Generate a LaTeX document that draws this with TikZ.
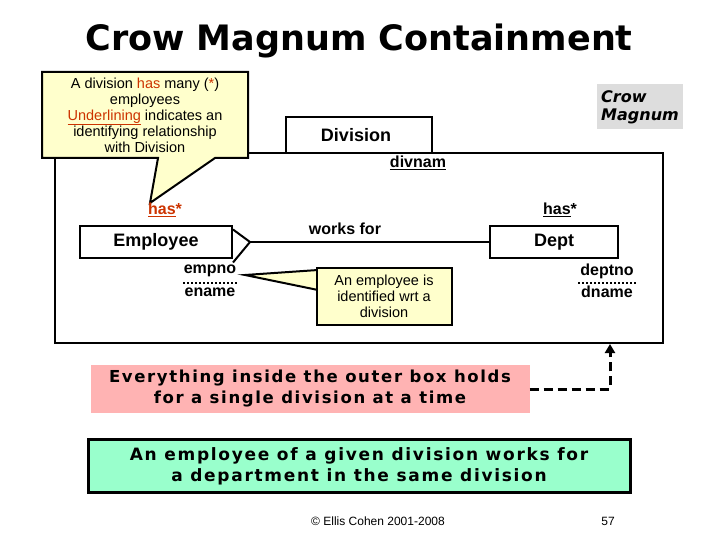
\documentclass[tikz,border=0pt]{standalone}
\usepackage{fontspec}
\setmainfont{Liberation Sans}
\newfontfamily\verd{DejaVu Sans}
\newfontfamily\verdsp[LetterSpace=10]{DejaVu Sans}
\usetikzlibrary{arrows.meta}
\definecolor{note}{HTML}{FFFFCC}
\definecolor{hasred}{HTML}{CC3300}
\definecolor{pinkbox}{HTML}{FFB3B3}
\definecolor{greenbox}{HTML}{99FFCC}
\definecolor{graybox}{HTML}{DDDDDD}
\begin{document}
\begin{tikzpicture}[x=1pt,y=-1pt,
  ent/.style={draw,line width=2pt,inner sep=0pt},
  lbl/.style={font=\fontsize{16}{17}\selectfont\bfseries}]
\useasboundingbox (0,0) rectangle (720,540);
\node[font=\verd\fontsize{35}{37}\selectfont\bfseries] (title) at (359,41) {Crow Magnum Containment};
% outer box and Division
\draw[line width=2pt] (55,153) rectangle (663,343);
\draw[ent,fill=white] (286,117) rectangle (432,153);
\node[font=\fontsize{18}{19}\selectfont\bfseries] (div) at (356,135) {Division};
\node[lbl] (divnam) at (418,163) {\underline{divnam}};
% callout
\draw[line width=2pt,fill=note] (42,72) -- (248,72) -- (248,158) -- (215,158) -- (150,203) -- (158,158) -- (42,158) -- cycle;
\node[font=\fontsize{14.5}{16}\selectfont, align=center] (call) at (145,115)
 {A division \textcolor{hasred}{has} many (\textcolor{hasred}{*})\\employees\\\textcolor{hasred}{\underline{Underlining}} indicates an\\identifying relationship\\with Division};
% crow magnum
\node[fill=graybox, font=\verd\fontsize{16}{18}\selectfont\bfseries\itshape, align=left, minimum width=86pt, minimum height=45pt, inner sep=2pt] (cm) at (640,107) {Crow\\Magnum};
% entities
\node[ent, minimum width=152pt, minimum height=31pt, font=\fontsize{18}{19}\selectfont\bfseries] (emp) at (156,242) {Employee};
\node[ent, minimum width=128pt, minimum height=31pt, font=\fontsize{18}{19}\selectfont\bfseries] (dept) at (554,242) {Dept};
\node[lbl, text=hasred] (has1) at (165,210) {\underline{has}*};
\node[lbl] (has2) at (560,210) {\underline{has}*};
\coordinate (foot) at (250,242);
\draw[line width=2pt] (foot) -- (dept.west);
\draw[line width=2pt] (emp.north east) ++(0,4) -- (foot) -- ([yshift=-4pt]emp.south east);
\node[lbl] (wf) at (345,229) {works for};
% attributes
\node[lbl] (empno) at (210,271) {empno};
\node[lbl] (ename) at (210,292) {ename};
\draw[dotted,line width=2pt] (183,283) -- (238,283);
\node[lbl] (deptno) at (607,271) {deptno};
\node[lbl] (dname) at (607,292) {dname};
\draw[dotted,line width=2pt] (578,283) -- (636,283);
% note
\draw[line width=2pt,fill=note] (245,275) -- (318,270) -- (318,290) -- cycle;
\node[draw,line width=2pt,fill=note, minimum width=135pt, minimum height=57pt, align=center, font=\fontsize{14.5}{16}\selectfont] (note) at (384,296) {An employee is\\identified wrt a\\division};
% bottom boxes
\node[fill=pinkbox, minimum width=439pt, minimum height=48pt, align=center, font=\verdsp\fontsize{16.5}{21}\selectfont\bfseries] (pink) at (310,389) {Everything inside the outer box holds\\for a single division at a time};
\coordinate (corner) at (610,389);
\coordinate (tgt) at (610,344);
\draw[dash pattern=on 9pt off 5pt,line width=3pt,-{Triangle[length=9pt,width=10pt]}] (pink.east) -- (corner) -- (tgt);
\node[draw,line width=3pt,fill=greenbox, minimum width=542pt, minimum height=53pt, align=center, font=\verdsp\fontsize{17}{21}\selectfont\bfseries] (green) at (359,466) {An employee of a given division works for\\a department in the same division};
\node[font=\fontsize{12}{13}\selectfont] (copy) at (378,521) {© Ellis Cohen 2001-2008};
\node[font=\fontsize{12}{13}\selectfont] (page) at (608,521) {57};
\end{tikzpicture}
\end{document}
